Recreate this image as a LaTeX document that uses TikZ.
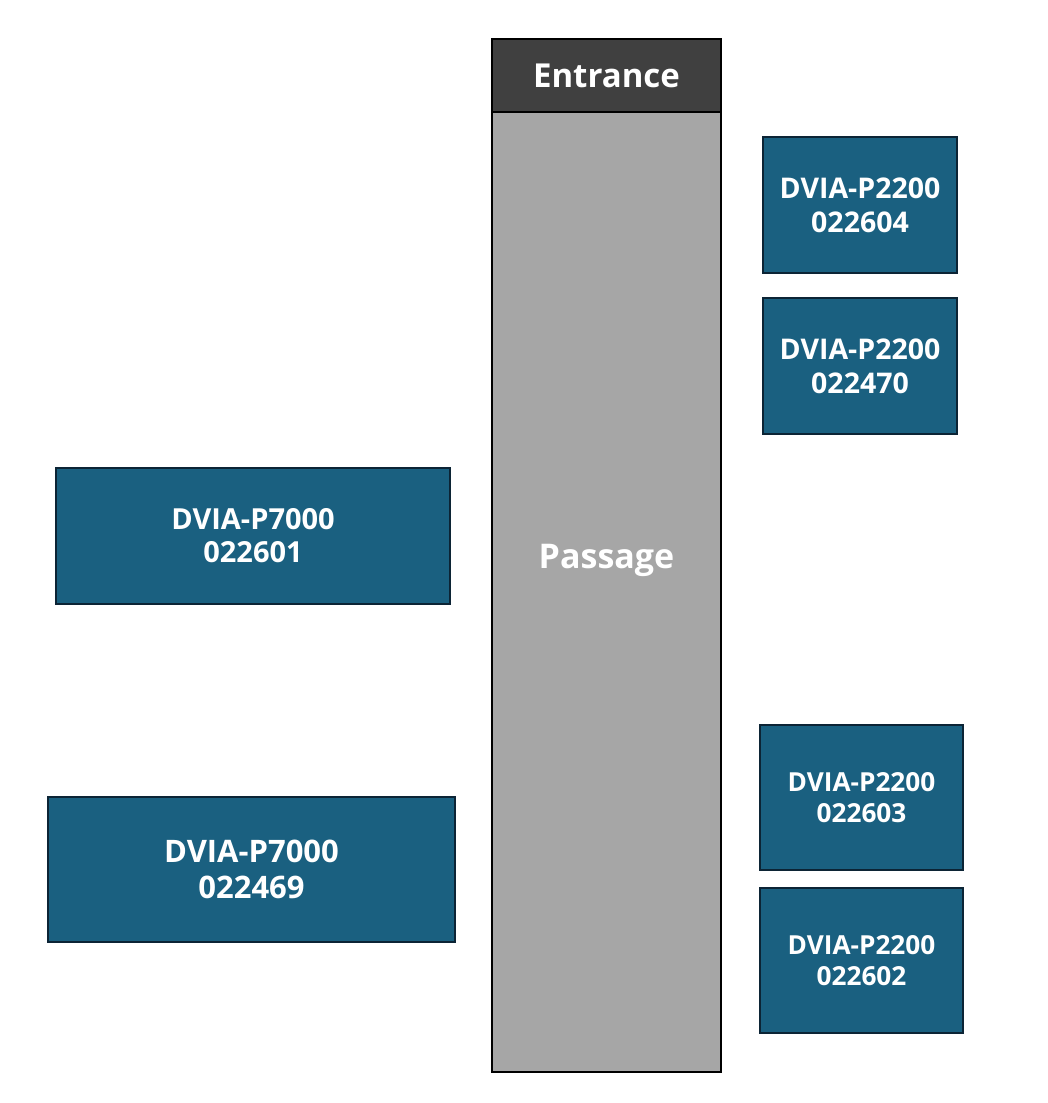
\documentclass[tikz,border=0pt]{standalone}
\usepackage{fontspec}
\setmainfont{Open Sans}
\definecolor{boxfill}{HTML}{1A6080}
\definecolor{boxline}{HTML}{0C2435}
\definecolor{entfill}{HTML}{404040}
\definecolor{passfill}{HTML}{A6A6A6}
\begin{document}
\begin{tikzpicture}[x=1pt,y=-1pt,
  dev/.style={draw=boxline,line width=2.5pt,fill=boxfill,text=white,font=\bfseries\fontsize{28.5}{34}\selectfont,align=center,inner sep=0pt},
  devsmall/.style={dev,font=\bfseries\fontsize{26.2}{31}\selectfont},
  devmid/.style={dev,font=\bfseries\fontsize{29}{33}\selectfont},
  devbig/.style={dev,font=\bfseries\fontsize{31}{36}\selectfont},
  room/.style={draw=black,line width=2pt,text=white,inner sep=0pt}]
\useasboundingbox (0,0) rectangle (1048,1103);
\fill[white] (0,0) rectangle (1048,1103);
% passage and entrance
\node[room,fill=passfill,minimum width=229pt,minimum height=960pt] (passage) at (606.5,592) {};
\node[text=white,font=\bfseries\fontsize{34}{40}\selectfont] (ptext) at (606.5,560) {Passage};
\node[room,fill=entfill,minimum width=229pt,minimum height=73pt,font=\bfseries\fontsize{33}{40}\selectfont] (entrance) at (606.5,75.5) {Entrance};
% right devices
\node[dev,minimum width=194pt,minimum height=136pt] (r1) at (860,205) {DVIA-P2200\\022604};
\node[dev,minimum width=194pt,minimum height=136pt] (r2) at (860,366) {DVIA-P2200\\022470};
\node[devsmall,minimum width=203pt,minimum height=145pt] (r3) at (861.5,797.5) {DVIA-P2200\\022603};
\node[devsmall,minimum width=203pt,minimum height=145pt] (r4) at (861.5,960.5) {DVIA-P2200\\022602};
% left devices
\node[devmid,minimum width=394pt,minimum height=136pt] (l1) at (253,536) {DVIA-P7000\\022601};
\node[devbig,minimum width=407pt,minimum height=145pt] (l2) at (251.5,869.5) {DVIA-P7000\\022469};
\end{tikzpicture}
\end{document}
